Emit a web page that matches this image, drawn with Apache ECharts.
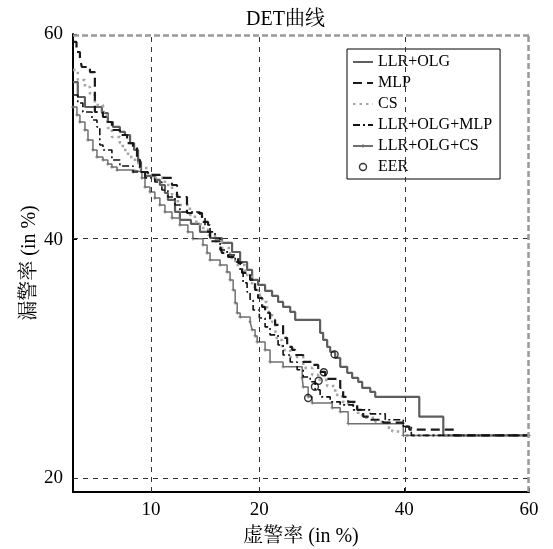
<!DOCTYPE html>
<html><head><meta charset="utf-8">
<script src="https://cdn.jsdelivr.net/npm/echarts@6/dist/echarts.min.js"></script>
<style>html,body{margin:0;padding:0;background:#fff}#c{width:553px;height:549px}</style>
</head><body><div id="c"></div>
<script>
// ---- data (percent: [false alarm, miss]) ----
const xTicks = [10, 20, 40, 60];
const yTicks = [20, 40, 60];
const xRange = [5.5, 60];
const yRange = [19.08, 60];
const seriesNames = ['LLR+OLG', 'MLP', 'CS', 'LLR+OLG+MLP', 'LLR+OLG+CS', 'EER'];

const llrOlg = [[5.5,55.37],[5.72,53.91],[6.06,52.93],[6.93,52.34],[7.26,51.46],[7.55,50.97],[7.96,50.48],[8.27,50.18],[8.59,49.39],[8.85,48.71],[9.11,47.53],[9.31,46.55],[9.58,46.16],[10.28,45.77],[10.65,45.28],[11.03,44.5],[11.26,43.82],[11.82,42.66],[12.22,41.89],[13.15,41.51],[13.95,40.74],[14.88,40.16],[16.03,39.69],[17.05,38.83],[17.89,37.89],[18.64,37.15],[19.19,36.22],[19.86,35.76],[20.66,35.21],[21.48,34.76],[22.2,34.21],[22.81,33.76],[23.69,33.31],[24.32,32.6],[27.6,31.46],[28.01,30.84],[28.56,30.24],[28.98,29.81],[29.68,29.3],[30.39,28.55],[31.39,28.05],[32.11,27.63],[32.99,27.31],[33.58,26.81],[34.78,26.49],[35.53,26.09],[42.38,24.53],[46.23,23.1],[60,23.1]];

const mlp = [[5.5,59.24],[5.66,58.28],[5.82,57.7],[5.91,56.83],[6.31,56.34],[6.56,52.44],[6.99,51.95],[7.26,51.46],[7.49,50.67],[7.96,50.18],[8.4,49.39],[8.78,48.9],[9.04,47.73],[9.24,46.55],[9.78,46.26],[10.65,45.97],[11.58,45.28],[11.98,44.11],[12.81,42.56],[14.13,41.7],[14.69,40.74],[14.88,39.85],[15.84,39.4],[16.03,38.74],[16.64,38.36],[17.68,37.8],[18.1,36.87],[18.97,36.22],[19.52,35.3],[19.86,34.57],[20.32,33.76],[20.66,33.22],[21.24,32.6],[21.84,32.16],[22.81,31.02],[23.31,30.24],[23.94,29.98],[24.32,29.55],[25.35,28.96],[26.53,28.71],[27.34,28.13],[28.29,27.55],[30.39,26.81],[30.81,26.09],[31.53,25.69],[32.84,25.06],[33.73,24.53],[34.78,24.29],[36.75,24.07],[39.85,23.77],[40.8,23.54],[48.01,23.1],[60,23.1]];

const cs = [[5.5,56.54],[5.72,55.57],[6.06,54.89],[6.31,54.1],[6.56,53.12],[6.99,52.44],[7.2,51.85],[7.26,50.87],[7.49,49.98],[7.96,49.39],[8.14,48.71],[8.46,48.02],[8.91,47.43],[9.24,46.94],[9.78,46.26],[10.28,45.97],[11.03,45.28],[11.58,44.31],[12.06,43.33],[13.06,42.37],[13.5,41.7],[14.0,41.12],[14.69,40.45],[15.35,39.85],[16.03,39.21],[16.84,38.27],[17.37,37.61],[18.42,36.68],[19.19,35.57],[19.86,34.85],[20.32,34.21],[20.89,33.31],[21.48,32.42],[21.84,31.72],[22.08,30.84],[22.69,29.98],[23.69,29.38],[25.35,28.46],[26.53,27.88],[27.34,27.47],[28.56,26.97],[29.68,26.25],[30.67,25.69],[31.53,25.45],[32.84,24.83],[33.58,24.45],[35.53,24.14],[37.37,23.69],[38.14,23.39],[40.0,23.1],[60,23.1]];

const llrOlgMlp = [[5.5,54.1],[5.72,53.32],[5.96,52.44],[6.41,51.66],[6.67,50.97],[6.82,49.2],[6.99,48.71],[7.49,47.73],[7.96,47.14],[8.78,46.55],[9.58,45.97],[10.28,45.57],[10.8,44.79],[11.26,44.11],[11.82,43.33],[12.22,42.66],[13.95,42.18],[14.41,41.41],[14.88,40.74],[15.35,40.1],[15.84,39.02],[16.54,38.55],[17.37,37.89],[17.89,36.96],[18.21,35.95],[18.64,35.12],[18.97,34.39],[19.3,33.49],[20.0,32.77],[20.66,31.98],[21.24,31.28],[22.2,30.41],[22.81,29.55],[23.69,28.96],[24.57,28.3],[25.35,27.71],[26.27,27.31],[26.93,26.65],[27.6,26.09],[28.98,25.69],[30.39,25.45],[32.26,25.06],[34.78,24.75],[37.06,24.29],[39.85,23.77],[41.12,23.1],[60,23.1]];

const llrOlgCs = [[5.5,52.93],[5.68,52.15],[5.82,51.46],[6.06,50.67],[6.21,49.69],[6.46,48.71],[6.67,48.02],[6.99,47.73],[7.26,47.33],[7.49,47.04],[7.79,46.74],[8.78,46.55],[9.37,45.97],[9.58,45.08],[9.93,44.6],[10.28,44.01],[10.65,43.33],[11.03,42.66],[11.58,42.08],[12.22,41.41],[12.89,40.74],[13.32,40.1],[14.22,39.5],[14.6,38.74],[14.88,38.08],[15.84,37.61],[16.54,36.96],[16.84,36.22],[17.16,35.3],[17.37,34.12],[17.58,33.22],[17.89,32.86],[18.97,32.42],[19.19,31.72],[19.52,31.19],[19.75,30.67],[20.66,29.98],[21.24,28.96],[22.81,28.55],[25.22,27.63],[25.35,26.89],[26.0,26.09],[26.53,25.61],[29.26,25.22],[30.39,24.91],[31.53,23.99],[39.85,23.1],[60,23.1]];

const eer = [29.6, 28.1, 27.4, 26.9, 26.0];

// ---- probit scale helpers ----
function probit(p) {
  const a=[-3.969683028665376e+01,2.209460984245205e+02,-2.759285104469687e+02,1.383577518672690e+02,-3.066479806614716e+01,2.506628277459239e+00];
  const b=[-5.447609879822406e+01,1.615858368580409e+02,-1.556989798598866e+02,6.680131188771972e+01,-1.328068155288572e+01];
  const c=[-7.784894002430293e-03,-3.223964580411365e-01,-2.400758277161838e+00,-2.549732539343734e+00,4.374664141464968e+00,2.938163982698783e+00];
  const d=[7.784695709041462e-03,3.224671290700398e-01,2.445134137142996e+00,3.754408661907416e+00];
  const plow=0.02425, phigh=1-plow; let q,r;
  if(p<plow){q=Math.sqrt(-2*Math.log(p));return (((((c[0]*q+c[1])*q+c[2])*q+c[3])*q+c[4])*q+c[5])/((((d[0]*q+d[1])*q+d[2])*q+d[3])*q+1);}
  if(p>phigh){q=Math.sqrt(-2*Math.log(1-p));return -(((((c[0]*q+c[1])*q+c[2])*q+c[3])*q+c[4])*q+c[5])/((((d[0]*q+d[1])*q+d[2])*q+d[3])*q+1);}
  q=p-0.5;r=q*q;return (((((a[0]*r+a[1])*r+a[2])*r+a[3])*r+a[4])*r+a[5])*q/(((((b[0]*r+b[1])*r+b[2])*r+b[3])*r+b[4])*r+1);
}
const pr = v => probit(v / 100);
const toPr = arr => arr.map(p => [pr(p[0]), pr(p[1])]);
function tickFormatter(ticks) {
  return v => { for (const t of ticks) { if (Math.abs(pr(t) - v) < 1e-6) return String(t); } return ''; };
}

const serif = "'Liberation Serif','Noto Serif CJK SC','Noto Sans CJK SC',serif";
const gridDash = { color: '#333', width: 1, type: [5, 5] };
const edgeDash = { color: '#999', width: 2.5, type: [6, 3] };
const noMark = 'path://M0,0M1,1';
const plusMark = 'path://M0,0M20,20M9.2,6.5H10.8V9.2H13.5V10.8H10.8V13.5H9.2V10.8H6.5V9.2H9.2Z';
const ringMark = 'path://M0,0M20,20M10,4A6,6 0 1 1 9.99,4ZM10,6A4,4 0 1 0 10.01,6Z';

const chart = echarts.init(document.getElementById('c'), null, { renderer: 'canvas' });
chart.setOption({
  animation: false,
  backgroundColor: '#fff',
  title: { text: 'DET曲线', left: 241, top: 5, textStyle: { fontFamily: serif, fontSize: 20, fontWeight: 'normal', color: '#000' } },
  legend: {
    data: seriesNames, orient: 'vertical', left: 347, top: 49,
    backgroundColor: '#fff', borderColor: '#000', borderWidth: 1,
    padding: [5, 8, 4, 5], itemGap: 5, itemWidth: 20, itemHeight: 14,
    textStyle: { fontFamily: serif, fontSize: 16, color: '#000' }
  },
  grid: { left: 73, right: 24, top: 34, bottom: 57, containLabel: false, outerBoundsMode: 'none' },
  xAxis: {
    type: 'value', min: pr(xRange[0]), max: pr(xRange[1]),
    name: '虚警率 (in %)', nameLocation: 'middle', nameGap: 35, nameMoveOverlap: false,
    nameTextStyle: { fontFamily: serif, fontSize: 20, color: '#000', verticalAlign: 'top' },
    axisLine: { show: true, onZero: false, lineStyle: { color: '#000', width: 2 } },
    axisTick: { show: true, inside: true, length: 4, customValues: xTicks.map(pr), lineStyle: { color: '#000' } },
    axisLabel: { customValues: xTicks.map(pr), formatter: tickFormatter(xTicks), fontFamily: serif, fontSize: 19, color: '#000', margin: 9 },
    splitLine: { show: false }
  },
  yAxis: {
    type: 'value', min: pr(yRange[0]), max: pr(yRange[1]),
    name: '漏警率 (in %)', nameLocation: 'middle', nameGap: 33, nameRotate: 90, nameMoveOverlap: false,
    nameTextStyle: { fontFamily: serif, fontSize: 20, color: '#000' },
    axisLine: { show: true, onZero: false, lineStyle: { color: '#000', width: 2 } },
    axisTick: { show: true, inside: true, length: 4, customValues: yTicks.map(pr), lineStyle: { color: '#000' } },
    axisLabel: { customValues: yTicks.map(pr), formatter: tickFormatter(yTicks), fontFamily: serif, fontSize: 19, color: '#000', margin: 10 },
    splitLine: { show: false }
  },
  series: [
    {
      name: 'grid', type: 'line', data: [], silent: true, z: 1,
      markLine: {
        silent: true, symbol: ['none', 'none'], label: { show: false }, animation: false,
        data: [
          ...xTicks.slice(0, 3).map(t => ({ xAxis: pr(t), lineStyle: gridDash })),
          ...yTicks.slice(0, 2).map(t => ({ yAxis: pr(t), lineStyle: gridDash })),
          { xAxis: pr(xTicks[3]), lineStyle: edgeDash },
          { yAxis: pr(yTicks[2]), lineStyle: edgeDash }
        ]
      }
    },
    { name: 'LLR+OLG', type: 'line', step: 'end', data: toPr(llrOlg), symbol: noMark, showSymbol: false, z: 3,
      lineStyle: { color: '#5e5e5e', width: 2.2, type: 'solid' }, itemStyle: { color: '#5e5e5e' } },
    { name: 'MLP', type: 'line', step: 'end', data: toPr(mlp), symbol: noMark, showSymbol: false, z: 4,
      lineStyle: { color: '#1a1a1a', width: 2.2, type: [9, 5] }, itemStyle: { color: '#1a1a1a' } },
    { name: 'CS', type: 'line', step: 'end', data: toPr(cs), symbol: noMark, showSymbol: false, z: 3,
      lineStyle: { color: '#a5a5a5', width: 2.6, type: [2.5, 4] }, itemStyle: { color: '#a5a5a5' } },
    { name: 'LLR+OLG+MLP', type: 'line', step: 'end', data: toPr(llrOlgMlp), symbol: noMark, showSymbol: false, z: 4,
      lineStyle: { color: '#111', width: 1.6, type: [7, 3, 2, 3] }, itemStyle: { color: '#111' } },
    { name: 'LLR+OLG+CS', type: 'line', step: 'end', data: toPr(llrOlgCs), z: 3,
      symbol: plusMark, symbolSize: 10, showSymbol: true,
      lineStyle: { color: '#707070', width: 1.5, type: 'solid' }, itemStyle: { color: '#707070' } },
    { name: 'EER', type: 'scatter', data: eer.map(v => [pr(v), pr(v)]), z: 6,
      symbol: ringMark, symbolSize: 14,
      itemStyle: { color: '#000' } }
  ]
});
</script></body></html>
